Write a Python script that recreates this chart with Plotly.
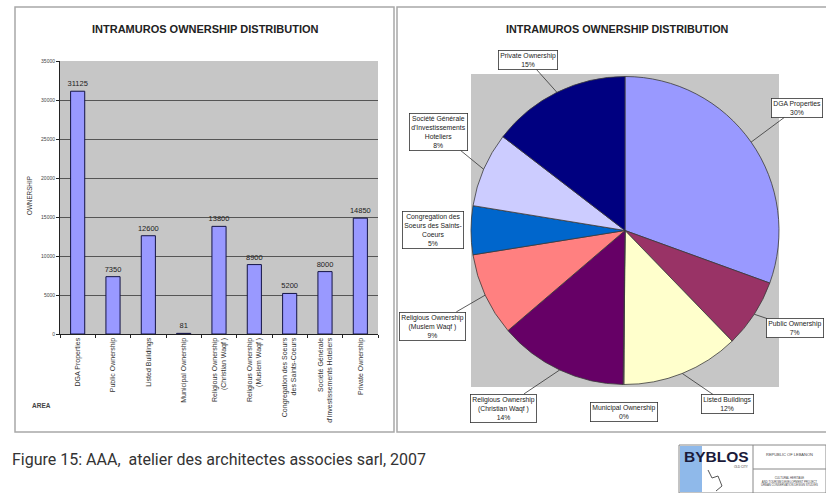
import math
import plotly.graph_objects as go

W, H = 826, 493
def X(px): return px / W
def Y(py): return 1 - py / H

# ---------------- data ----------------
categories = ["DGA Properties", "Public Ownership", "Listed Buildings", "Municipal Ownership",
              "Religious Ownership (Christian Waqf )", "Religious Ownership (Muslem Waqf )",
              "Congregation des Soeurs des Saints-Coeurs",
              "Société Générale d'Investissements Hoteliers", "Private Ownership"]
bar_tick_labels = ["DGA Properties", "Public Ownership", "Listed Buildings", "Municipal Ownership",
                   "Religious Ownership<br>(Christian Waqf )", "Religious Ownership<br>(Muslem Waqf )",
                   "Congregation des Soeurs<br>des Saints-Coeurs",
                   "Société Générale<br>d'Investissements Hoteliers", "Private Ownership"]
values = [31125, 7350, 12600, 81, 13800, 8900, 5200, 8000, 14850]
pie_box_labels = ["DGA Properties", "Public Ownership", "Listed Buildings", "Municipal Ownership",
                  "Religious Ownership<br>(Christian Waqf )", "Religious Ownership<br>(Muslem Waqf )",
                  "Congregation des<br>Soeurs des Saints-<br>Coeurs",
                  "Société Générale<br>d'Investissements<br>Hoteliers", "Private Ownership"]
pie_percent = [30, 7, 12, 0, 14, 9, 5, 8, 15]
pie_colors = ["#9999FF", "#993366", "#FFFFCC", "#FFFFCC", "#660066", "#FF8080", "#0066CC", "#CCCCFF", "#000080"]
y_ticks = [0, 5000, 10000, 15000, 20000, 25000, 30000, 35000]

# label box centres (px) and whether a leader line is drawn
box_centres = [(797, 108), (795, 328), (727, 404), (624, 412), (503, 408),
               (432, 326), (433, 230), (438, 132), (528, 60)]
leader = [True, True, True, False, True, True, False, True, True]

fig = go.Figure()

# ---------------- bar chart ----------------
fig.add_trace(go.Bar(
    x=categories, y=values, xaxis="x", yaxis="y",
    marker=dict(color="#9999FF", line=dict(color="#141445", width=1)),
    width=0.4, text=[str(v) for v in values], textposition="outside",
    constraintext="none",
    textfont=dict(size=7.5, color="#222", family="Liberation Sans, Arial"),
    cliponaxis=False, showlegend=False, hoverinfo="x+y"))

# ---------------- pie chart ----------------
pcx0, pcx1, pcy0, pcy1 = 471, 779, 74, 387
fig.add_trace(go.Pie(
    labels=categories, values=values, sort=False, direction="clockwise", rotation=0,
    domain=dict(x=[X(pcx0), X(pcx1)], y=[Y(pcy1), Y(pcy0)]),
    marker=dict(colors=pie_colors, line=dict(color="#3a3a3a", width=0.8)),
    textinfo="none", showlegend=False, hoverinfo="label+percent"))

annotations = []
total = sum(values)
cx, cy = (pcx0 + pcx1) / 2, (pcy0 + pcy1) / 2
r = min(pcx1 - pcx0, pcy1 - pcy0) / 2
cum = 0
for lab, v, pct, (bx, by), show in zip(pie_box_labels, values, pie_percent, box_centres, leader):
    mid = (cum + v / 2) / total * 2 * math.pi
    cum += v
    tx = cx + r * math.sin(mid)
    ty = cy - r * math.cos(mid)
    annotations.append(dict(
        x=X(tx), y=Y(ty), xref="paper", yref="paper",
        ax=bx - tx, ay=by - ty, axref="pixel", ayref="pixel",
        xanchor="center", yanchor="middle",
        text=f"{lab}<br>{pct}%", showarrow=True, arrowhead=0, arrowwidth=0.8,
        arrowcolor="#333" if show else "rgba(0,0,0,0)",
        font=dict(size=6.8, color="#222", family="Liberation Sans, Arial"),
        bgcolor="white", bordercolor="#333", borderwidth=0.8, borderpad=1.5, align="center"))

def txt(px, py, text, size, color="#333", family="Liberation Sans, Arial", **kw):
    d = dict(x=X(px), y=Y(py), xref="paper", yref="paper", text=text, showarrow=False,
             xanchor="center", yanchor="middle",
             font=dict(size=size, color=color, family=family))
    d.update(kw)
    return d

title = "<b>INTRAMUROS OWNERSHIP DISTRIBUTION</b>"
annotations += [
    txt(205, 29, title, 11, "#222"),
    txt(617, 29, title, 10.8, "#222"),
    txt(29, 196, "OWNERSHIP", 6.3, textangle=-90),
    txt(30, 405, "<b>AREA</b>", 6.5, "#444", xanchor="left"),
    txt(10, 459, "Figure 15: AAA,  atelier des architectes associes sarl, 2007", 16, "#333",
        family="Roboto", xanchor="left"),
    # logo texts
    txt(716, 456, "<b>BYBLOS</b>", 15.5, "#1a1a3a"),
    txt(741, 467, "OLD CITY", 3, "#333"),
    txt(789, 454, "REPUBLIC OF LEBANON", 4, "#444"),
    txt(789, 481, "CULTURAL HERITAGE<br>AND TOURISM DEVELOPMENT PROJECT<br>URBAN CONSERVATION DESIGN STUDIES",
        2.8, "#444"),
]

shapes = [
    # panel frames
    dict(type="rect", xref="paper", yref="paper", x0=X(15), x1=X(394), y0=Y(432), y1=Y(7),
         line=dict(color="#A8A8A8", width=1.5), layer="below"),
    dict(type="rect", xref="paper", yref="paper", x0=X(397), x1=X(840), y0=Y(432), y1=Y(7),
         line=dict(color="#A8A8A8", width=1.5), layer="below"),
    # pie background
    dict(type="rect", xref="paper", yref="paper", x0=X(pcx0), x1=X(pcx1), y0=Y(pcy1), y1=Y(pcy0),
         fillcolor="#C6C6C6", line=dict(width=0), layer="below"),
    # logo
    dict(type="rect", xref="paper", yref="paper", x0=X(679), x1=X(826), y0=Y(493), y1=Y(445),
         fillcolor="white", line=dict(color="#888", width=1), layer="below"),
    dict(type="rect", xref="paper", yref="paper", x0=X(680), x1=X(702), y0=Y(492), y1=Y(446),
         fillcolor="#8FB9EA", line=dict(width=0), layer="below"),
    dict(type="line", xref="paper", yref="paper", x0=X(753), x1=X(753), y0=Y(493), y1=Y(445),
         line=dict(color="#888", width=1)),
    dict(type="line", xref="paper", yref="paper", x0=X(753), x1=X(826), y0=Y(469), y1=Y(469),
         line=dict(color="#888", width=1)),
    dict(type="path", xref="paper", yref="paper",
         path=f"M {X(708)} {Y(470)} L {X(712)} {Y(478)} L {X(718)} {Y(476)} L {X(722)} {Y(486)} L {X(716)} {Y(491)}",
         line=dict(color="#555", width=1)),
]

fig.update_layout(
    width=W, height=H, margin=dict(l=0, r=0, t=0, b=0),
    paper_bgcolor="white", plot_bgcolor="#C6C6C6",
    font=dict(family="Liberation Sans, Arial", color="#333"),
    xaxis=dict(domain=[X(60), X(378)], tickvals=categories, ticktext=bar_tick_labels,
               tickangle=-90, tickfont=dict(size=7, color="#333"), showline=True,
               linecolor="#222", linewidth=1, ticks="outside", tickson="boundaries",
               ticklen=3, tickcolor="#222", automargin=False, showgrid=False),
    yaxis=dict(domain=[Y(334), Y(61)], range=[0, 35000], tickvals=y_ticks,
               ticktext=[str(t) for t in y_ticks],
               tickfont=dict(size=5, color="#444"), showline=True, linecolor="#222",
               linewidth=1, ticks="outside", ticklen=3, tickcolor="#222",
               gridcolor="#555", gridwidth=1, zeroline=False, automargin=False),
    annotations=annotations, shapes=shapes, bargap=0.6,
)

fig.write_html("out.html")
